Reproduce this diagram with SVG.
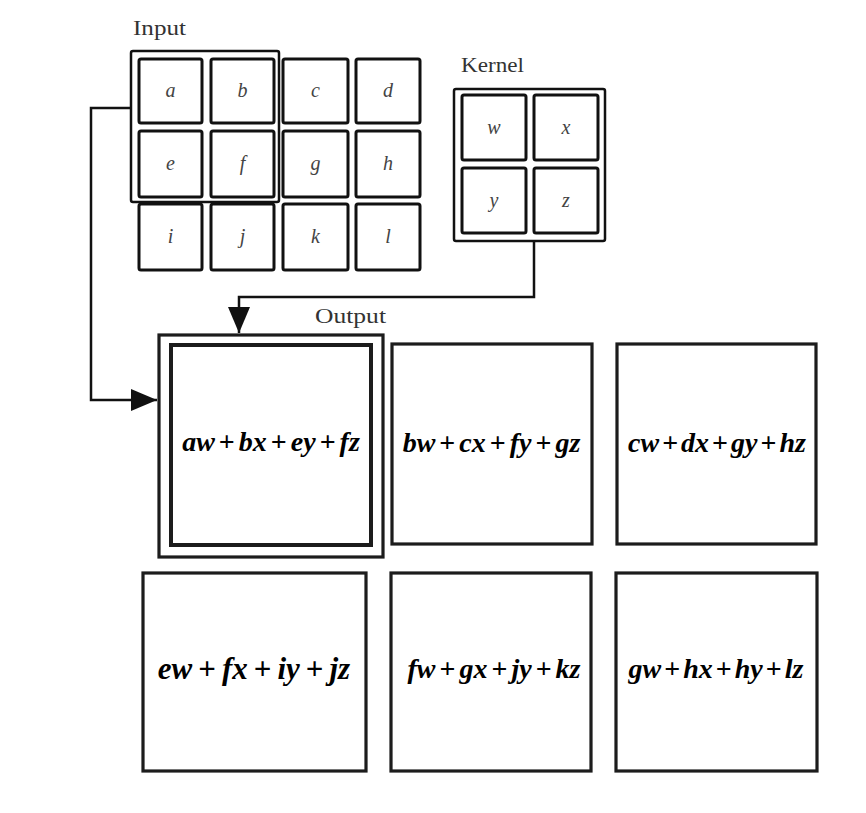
<svg xmlns="http://www.w3.org/2000/svg" width="866" height="813" viewBox="0 0 866 813">
<defs>
<marker id="arr" markerUnits="userSpaceOnUse" markerWidth="26" markerHeight="22" refX="26" refY="11" orient="auto">
<path d="M0,0 L26,11 L0,22 z" fill="#111"/>
</marker>
<style>
.cell{fill:#fff;stroke:#111;stroke-width:3;}
.frame{fill:none;stroke:#111;stroke-width:2.5;}
.out{fill:#fff;stroke:#1c1c1c;stroke-width:3.2;}
.lbl{font-family:"Liberation Serif",serif;font-size:21px;fill:#333;}
.var{font-family:"Liberation Serif",serif;font-style:italic;font-size:20px;fill:#444;text-anchor:middle;}
.eq{font-family:"Liberation Serif",serif;font-style:italic;font-weight:bold;font-size:28px;fill:#000;text-anchor:middle;}
.pl{font-style:normal;font-weight:bold;}
.conn{fill:none;stroke:#111;stroke-width:2.5;}
</style>
</defs>
<rect width="866" height="813" fill="#fff"/>

<g id="input">
<text class="lbl" x="133" y="35" textLength="53" lengthAdjust="spacingAndGlyphs">Input</text>
<g id="in-a"><rect class="cell" x="139" y="59" width="63" height="64" rx="2"/><text class="var" x="170.5" y="97">a</text></g>
<g id="in-b"><rect class="cell" x="211" y="59" width="63" height="64" rx="2"/><text class="var" x="242.5" y="97">b</text></g>
<g id="in-c"><rect class="cell" x="283" y="59" width="65" height="64" rx="2"/><text class="var" x="315.5" y="97">c</text></g>
<g id="in-d"><rect class="cell" x="356" y="59" width="64" height="64" rx="2"/><text class="var" x="388" y="97">d</text></g>
<g id="in-e"><rect class="cell" x="139" y="131" width="63" height="66" rx="2"/><text class="var" x="170.5" y="170">e</text></g>
<g id="in-f"><rect class="cell" x="211" y="131" width="63" height="66" rx="2"/><text class="var" x="242.5" y="170">f</text></g>
<g id="in-g"><rect class="cell" x="283" y="131" width="65" height="66" rx="2"/><text class="var" x="315.5" y="170">g</text></g>
<g id="in-h"><rect class="cell" x="356" y="131" width="64" height="66" rx="2"/><text class="var" x="388" y="170">h</text></g>
<g id="in-i"><rect class="cell" x="139" y="204" width="63" height="66" rx="2"/><text class="var" x="170.5" y="243">i</text></g>
<g id="in-j"><rect class="cell" x="211" y="204" width="63" height="66" rx="2"/><text class="var" x="242.5" y="243">j</text></g>
<g id="in-k"><rect class="cell" x="283" y="204" width="65" height="66" rx="2"/><text class="var" x="315.5" y="243">k</text></g>
<g id="in-l"><rect class="cell" x="356" y="204" width="64" height="66" rx="2"/><text class="var" x="388" y="243">l</text></g>
<rect id="in-window" class="frame" x="131" y="51" width="148" height="151" rx="2"/>
</g>

<g id="kernel">
<text class="lbl" x="461" y="72" textLength="63" lengthAdjust="spacingAndGlyphs">Kernel</text>
<rect class="frame" x="454" y="89" width="151" height="152" rx="2"/>
<g id="k-w"><rect class="cell" x="462" y="95" width="64" height="65" rx="2"/><text class="var" x="494" y="134">w</text></g>
<g id="k-x"><rect class="cell" x="534" y="95" width="64" height="65" rx="2"/><text class="var" x="566" y="134">x</text></g>
<g id="k-y"><rect class="cell" x="462" y="168" width="64" height="65" rx="2"/><text class="var" x="494" y="207">y</text></g>
<g id="k-z"><rect class="cell" x="534" y="168" width="64" height="65" rx="2"/><text class="var" x="566" y="207">z</text></g>
</g>

<g id="connectors">
<path class="conn" d="M131,108 H91 V400 H157" marker-end="url(#arr)"/>
<path class="conn" d="M534,241 V297 H239 V333" marker-end="url(#arr)"/>
</g>

<g id="output">
<text class="lbl" x="315" y="323" textLength="71" lengthAdjust="spacingAndGlyphs">Output</text>
<g id="out-1">
<rect class="out" x="159" y="335" width="224" height="222"/>
<rect class="out" x="171" y="345" width="200" height="200" style="stroke-width:4"/>
<text class="eq" x="271" y="451">aw<tspan class="pl" dx="4">+</tspan><tspan dx="4">bx</tspan><tspan class="pl" dx="4">+</tspan><tspan dx="4">ey</tspan><tspan class="pl" dx="4">+</tspan><tspan dx="4">fz</tspan></text>
</g>
<g id="out-2">
<rect class="out" x="392" y="344" width="200" height="200"/>
<text class="eq" x="491.5" y="452">bw<tspan class="pl" dx="4">+</tspan><tspan dx="4">cx</tspan><tspan class="pl" dx="4">+</tspan><tspan dx="4">fy</tspan><tspan class="pl" dx="4">+</tspan><tspan dx="4">gz</tspan></text>
</g>
<g id="out-3">
<rect class="out" x="617" y="344" width="199" height="200"/>
<text class="eq" x="717" y="452">cw<tspan class="pl" dx="3">+</tspan><tspan dx="3">dx</tspan><tspan class="pl" dx="3">+</tspan><tspan dx="3">gy</tspan><tspan class="pl" dx="3">+</tspan><tspan dx="3">hz</tspan></text>
</g>
<g id="out-4">
<rect class="out" x="143" y="573" width="223" height="198"/>
<text class="eq" x="254" y="679" style="font-size:31px">ew<tspan class="pl" dx="6">+</tspan><tspan dx="6">fx</tspan><tspan class="pl" dx="6">+</tspan><tspan dx="6">iy</tspan><tspan class="pl" dx="6">+</tspan><tspan dx="6">jz</tspan></text>
</g>
<g id="out-5">
<rect class="out" x="391" y="573" width="200" height="198"/>
<text class="eq" x="494" y="678">fw<tspan class="pl" dx="4">+</tspan><tspan dx="4">gx</tspan><tspan class="pl" dx="4">+</tspan><tspan dx="4">jy</tspan><tspan class="pl" dx="4">+</tspan><tspan dx="4">kz</tspan></text>
</g>
<g id="out-6">
<rect class="out" x="616" y="573" width="201" height="198"/>
<text class="eq" x="716" y="678">gw<tspan class="pl" dx="3">+</tspan><tspan dx="3">hx</tspan><tspan class="pl" dx="3">+</tspan><tspan dx="3">hy</tspan><tspan class="pl" dx="3">+</tspan><tspan dx="3">lz</tspan></text>
</g>
</g>
</svg>
